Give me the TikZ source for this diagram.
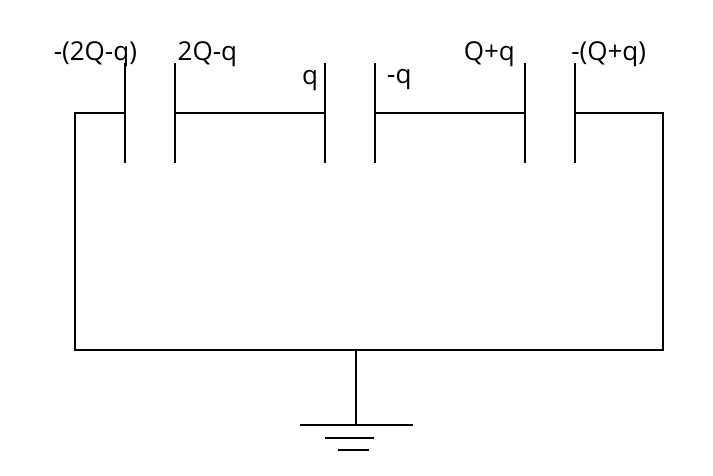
\documentclass[tikz,border=0pt]{standalone}
\usepackage{fontspec}
\setmainfont{Open Sans}
\begin{document}
\begin{tikzpicture}[x=1pt,y=-1pt,line width=0.75pt]
    \tikzstyle{wire} = [black, line width=1pt]
    \tikzstyle{charge} = [inner sep=0pt, font=\fontsize{19.5}{21}\selectfont]
    \useasboundingbox (0, 0) rectangle (534.75, 356.25);
    % plates
    \coordinate (aa) at (93.75, 47.5);
    \coordinate (ab) at (93.75, 122);
    \coordinate (ba) at (131.25, 47.5);
    \coordinate (bb) at (131.25, 122);
    \coordinate (ca) at (243.75, 47.5);
    \coordinate (cb) at (243.75, 122);
    \coordinate (da) at (281.25, 47.5);
    \coordinate (db) at (281.25, 122);
    \coordinate (ea) at (393.75, 47.5);
    \coordinate (eb) at (393.75, 122);
    \coordinate (fa) at (431.25, 47.5);
    \coordinate (fb) at (431.25, 122);
    \draw[wire] (aa) -- (ab);
    \draw[wire] (ba) -- (bb);
    \draw[wire] (ca) -- (cb);
    \draw[wire] (da) -- (db);
    \draw[wire] (ea) -- (eb);
    \draw[wire] (fa) -- (fb);
    % wires
    \coordinate (am) at (93.75, 84.75);
    \coordinate (bm) at (131.25, 84.75);
    \coordinate (cm) at (243.75, 84.75);
    \coordinate (dm) at (281.25, 84.75);
    \coordinate (em) at (393.75, 84.75);
    \coordinate (fm) at (431.25, 84.75);
    \coordinate (tl) at (56.25, 84.75);
    \coordinate (tr) at (497.25, 84.75);
    \coordinate (bl) at (56.25, 262.5);
    \coordinate (br) at (497.25, 262.5);
    \coordinate (gt) at (267, 262.5);
    \coordinate (gb) at (267, 318.75);
    \draw[wire] (am) -- (tl) -- (bl) -- (br) -- (tr) -- (fm);
    \draw[wire] (bm) -- (cm);
    \draw[wire] (dm) -- (em);
    \draw[wire] (gt) -- (gb);
    % ground
    \coordinate (ga) at (225, 318.75);
    \coordinate (gc) at (309.5, 318.75);
    \coordinate (gd) at (243.75, 328.5);
    \coordinate (ge) at (280.5, 328.5);
    \coordinate (gf) at (253.5, 337.5);
    \coordinate (gg) at (276.75, 337.5);
    \draw[wire] (ga) -- (gc);
    \draw[wire] (gd) -- (ge);
    \draw[wire] (gf) -- (gg);
    % labels
    \node[charge] (qa) at (71.5, 40.5) {-(2Q-q)};
    \node[charge] (qb) at (155.5, 40.5) {2Q-q};
    \node[charge] (qc) at (232.5, 60.5) {q};
    \node[charge] (qd) at (299.5, 60) {-q};
    \node[charge] (qe) at (367, 40.5) {Q+q};
    \node[charge] (qf) at (456.5, 40.5) {-(Q+q)};
\end{tikzpicture}
\end{document}
